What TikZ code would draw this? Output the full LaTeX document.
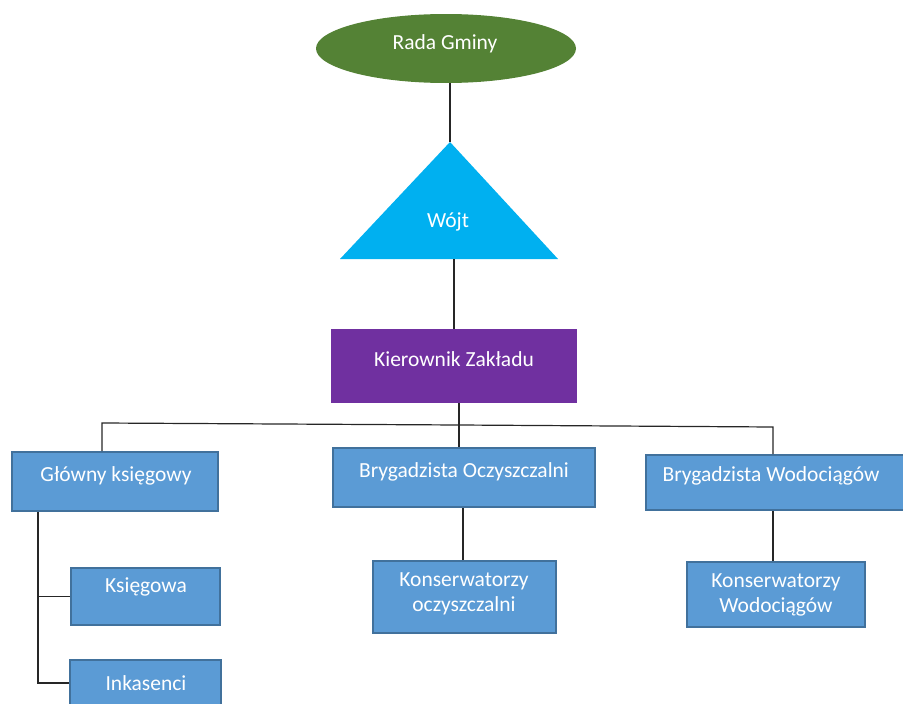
\documentclass[tikz,border=0pt]{standalone}
\usepackage{fontspec}
\setmainfont{Carlito}
\usetikzlibrary{shapes.geometric}
\definecolor{boxfill}{HTML}{5B9BD5}
\definecolor{boxedge}{HTML}{41719C}
\definecolor{greenfill}{HTML}{548235}
\definecolor{cyanfill}{HTML}{00B0F0}
\definecolor{purplefill}{HTML}{7030A0}
\begin{document}
\begin{tikzpicture}[x=1pt,y=-1pt,
  box/.style={draw=boxedge, fill=boxfill, line width=2pt, rectangle, inner sep=0pt},
  lbl/.style={text=white, font=\fontsize{21.5}{25}\selectfont, inner sep=0pt, align=center},
  conn/.style={draw=black!85, line width=1.2pt}]
\useasboundingbox (0,0) rectangle (903,704);

% top ellipse
\node[ellipse, fill=greenfill, minimum width=260, minimum height=69, inner sep=0pt] (rada) at (446,48.5) {};
\node[lbl] (radat) at (445,44) {Rada Gminy};

% triangle
\coordinate (apex) at (450,142);
\coordinate (tbl) at (340,259);
\coordinate (tbr) at (558,259);
\coordinate (wbase) at (454,259);
\fill[cyanfill] (apex) -- (tbr) -- (tbl) -- cycle;
\node[lbl] (wojt) at (448,222) {Wójt};

% Kierownik
\node[rectangle, fill=purplefill, minimum width=246, minimum height=74, inner sep=0pt] (kier) at (454,366) {};
\node[lbl] (kiert) at (454,359) {Kierownik Zakładu};

% second level
\node[box, minimum width=206, minimum height=59] (glowny) at (115,481.5) {};
\node[lbl] (glownyt) at (116,476) {Główny księgowy};
\node[box, minimum width=262, minimum height=59] (brygO) at (464,477.5) {};
\node[lbl] (brygOt) at (464,472) {Brygadzista Oczyszczalni};
\node[box, minimum width=259, minimum height=55] (brygW) at (775.5,482.5) {};
\node[lbl] (brygWt) at (771,476) {Brygadzista Wodociągów};

% third level
\node[box, minimum width=149, minimum height=57] (ksieg) at (145.5,596.5) {};
\node[lbl] (ksiegt) at (146,587) {Księgowa};
\node[box, minimum width=151, minimum height=50] (ink) at (145.5,685) {};
\node[lbl] (inkt) at (146,683) {Inkasenci};
\node[box, minimum width=183, minimum height=72] (konsO) at (464.5,597) {};
\node[lbl] (konsOt) at (464,594) {Konserwatorzy\\oczyszczalni};
\node[box, minimum width=178, minimum height=65] (konsW) at (776,594.5) {};
\node[lbl] (konsWt) at (776,595) {Konserwatorzy\\Wodociągów};

% connectors
\coordinate (busL) at (102,423);
\coordinate (busM) at (459,425);
\coordinate (busR) at (773,427);
\coordinate (trunk) at (38,600);
\draw[conn] (apex |- rada.south) -- (apex);
\draw[conn] (wbase) -- (wbase |- kier.north);
\draw[conn] (busL |- glowny.north) -- (busL) -- (busM) -- (busR) -- (busR |- brygW.north);
\draw[conn] (busM |- kier.south) -- (busM |- brygO.north);
\draw[conn] (trunk |- glowny.south) -- (trunk |- inkt) -- (ink.west |- inkt);
\draw[conn] (trunk |- ksieg.west) -- (ksieg.west);
\draw[conn] (konsO.north -| busM) ++(4,0) coordinate (oline) -- (oline |- brygO.south);
\draw[conn] (konsW.north -| busR) -- (busR |- brygW.south);
\end{tikzpicture}
\end{document}
